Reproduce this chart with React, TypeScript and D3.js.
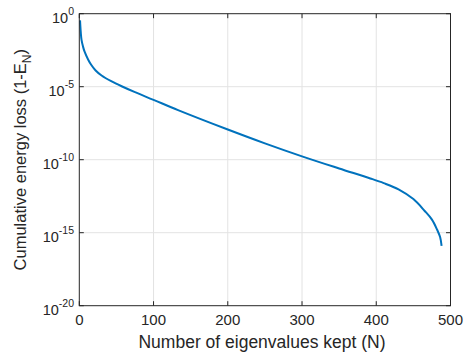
import React from "react";
import * as d3 from "d3";

const eigenCount: number[] = [1, 2, 3, 5, 7, 12, 16, 22, 30, 43, 57, 75, 100, 133, 200, 250, 300, 350, 392, 410, 430, 450, 465, 475, 482, 486, 488];
const energyLoss: number[] = [
  3.5e-1, 5.0e-2, 1.6e-2, 5.6e-3, 2.6e-3, 7.1e-4, 3.2e-4, 1.3e-4, 5.9e-5, 2.4e-5,
  1.07e-5, 4.2e-6, 1.26e-6, 2.5e-7, 1.17e-8, 1.32e-9, 1.7e-10, 2.5e-11, 5.2e-12, 2.5e-12,
  9.3e-13, 2.0e-13, 3.2e-14, 7.9e-15, 1.6e-15, 5.0e-16, 1.26e-16,
];
const xTicks: number[] = [0, 100, 200, 300, 400, 500];
const yTickExps: number[] = [0, -5, -10, -15, -20];

const W = 469;
const H = 356;
const L = 79.3;
const R = 450.5;
const T = 13.7;
const B = 305.7;
const FONT = "'Liberation Sans', Arial, Helvetica, sans-serif";
const AX = "#262626";
const GRID = "#e3e3e3";

export default function App() {
  const x = d3.scaleLinear().domain([0, 500]).range([L, R]);
  const y = d3.scaleLog().domain([1e-20, 1]).range([B, T]);
  const data = eigenCount.map((n, i) => [n, energyLoss[i]] as [number, number]);
  const line = d3
    .line<[number, number]>()
    .x((d) => x(d[0]))
    .y((d) => y(d[1]))
    .curve(d3.curveCatmullRom.alpha(0.5));
  const tick = 4.5;

  return (
    <svg width={W} height={H} style={{ position: "absolute", left: 0, top: 0, background: "#fff" }}>
      <rect x={0} y={0} width={W} height={H} fill="#fff" />
      {xTicks.slice(1, -1).map((t) => (
        <line key={"gx" + t} x1={x(t)} x2={x(t)} y1={T} y2={B} stroke={GRID} strokeWidth={1} />
      ))}
      {yTickExps.slice(1, -1).map((e) => (
        <line key={"gy" + e} x1={L} x2={R} y1={y(Math.pow(10, e))} y2={y(Math.pow(10, e))} stroke={GRID} strokeWidth={1} />
      ))}
      <path d={line(data) || ""} fill="none" stroke="#0072BD" strokeWidth={2} strokeLinejoin="round" />
      <rect x={L} y={T} width={R - L} height={B - T} fill="none" stroke={AX} strokeWidth={1} />
      {xTicks.map((t) => (
        <g key={"tx" + t}>
          <line x1={x(t)} x2={x(t)} y1={B} y2={B - tick} stroke={AX} />
          <line x1={x(t)} x2={x(t)} y1={T} y2={T + tick} stroke={AX} />
          <text x={x(t)} y={325} textAnchor="middle" fontFamily={FONT} fontSize={15} fill={AX}>
            {t}
          </text>
        </g>
      ))}
      {yTickExps.map((e) => {
        const yy = y(Math.pow(10, e));
        return (
          <g key={"ty" + e}>
            <line x1={L} x2={L + tick} y1={yy} y2={yy} stroke={AX} />
            <line x1={R} x2={R - tick} y1={yy} y2={yy} stroke={AX} />
            <text x={74} y={yy + 9.5} textAnchor="end" fontFamily={FONT} fontSize={14.5} fill={AX}>
              10
              <tspan dy={-8} fontSize={10.5}>
                {String(e)}
              </tspan>
            </text>
          </g>
        );
      })}
      <text x={262} y={348} textAnchor="middle" fontFamily={FONT} fontSize={17.5} fill={AX}>
        Number of eigenvalues kept (N)
      </text>
      <text
        transform={`translate(26, ${(T + B) / 2}) rotate(-90)`}
        textAnchor="middle"
        fontFamily={FONT}
        fontSize={16.5}
        fill={AX}
      >
        Cumulative energy loss (1-E
        <tspan dy={4.5} fontSize={12}>
          N
        </tspan>
        <tspan dy={-4.5}>)</tspan>
      </text>
    </svg>
  );
}
